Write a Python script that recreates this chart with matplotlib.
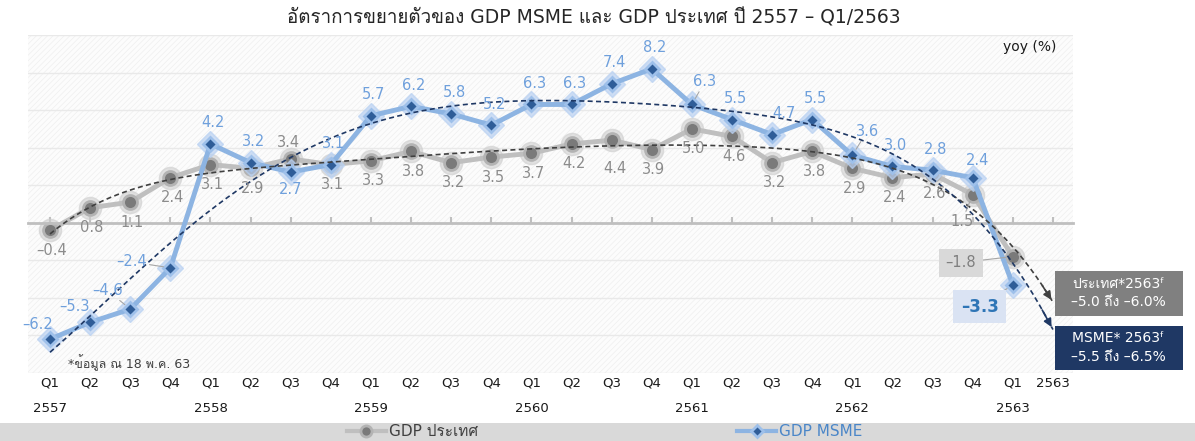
import matplotlib
matplotlib.use("Agg")
import matplotlib.pyplot as plt
import numpy as np
from matplotlib import font_manager, ft2font
from matplotlib.lines import Line2D
from matplotlib.patches import Rectangle


# pick up any installed family that has Thai glyphs, fall back to DejaVu for Latin
def thai_families():
    fams = []
    for f in font_manager.fontManager.ttflist:
        try:
            if 0x0E2D in ft2font.FT2Font(f.fname).get_charmap() and f.name not in fams:
                fams.append(f.name)
        except Exception:
            pass
    return fams

plt.rcParams['font.family'] = ['DejaVu Sans'] + thai_families()
plt.rcParams['hatch.linewidth'] = 0.5

# %%
# data (yoy %, Q1/2557 .. Q1/2563)
quarters = ["Q1", "Q2", "Q3", "Q4"] * 6 + ["Q1", "2563"]
years = ["2557", "", "", "", "2558", "", "", "", "2559", "", "", "", "2560", "", "", "",
         "2561", "", "", "", "2562", "", "", "", "2563", ""]

gdp_th = [-0.4, 0.8, 1.1, 2.4, 3.1, 2.9, 3.4, 3.1, 3.3, 3.8, 3.2, 3.5, 3.7,
          4.2, 4.4, 3.9, 5.0, 4.6, 3.2, 3.8, 2.9, 2.4, 2.6, 1.5, -1.8]
gdp_msme = [-6.2, -5.3, -4.6, -2.4, 4.2, 3.2, 2.7, 3.1, 5.7, 6.2, 5.8, 5.2, 6.3,
            6.3, 7.4, 8.2, 6.3, 5.5, 4.7, 5.5, 3.6, 3.0, 2.8, 2.4, -3.3]

forecast_th = ("ประเทศ*2563ᶠ", "–5.0 ถึง –6.0%")
forecast_msme = ("MSME* 2563ᶠ", "–5.5 ถึง –6.5%")

# %%
x = np.arange(len(gdp_th))

fig = plt.figure(figsize=(11.95, 4.41), dpi=100)
ax = fig.add_axes([0.0234, 0.1542, 0.8745, 0.7664])

ax.set_facecolor('#fcfcfc')
ax.patch.set_hatch('//////')
ax.patch.set_edgecolor('#efefef')

ax.set_xlim(-0.55, 25.5)
ax.set_ylim(-8, 10)
ax.set_yticks(np.arange(-8, 11, 2))
ax.tick_params(axis='y', length=0, labelleft=False)
ax.grid(axis='y', color='#e9e9e9', lw=1)
ax.set_axisbelow(True)
for s in ['left', 'right', 'top']:
    ax.spines[s].set_visible(False)
ax.spines['bottom'].set_position(('data', 0))
ax.spines['bottom'].set_color('#bfbfbf')
ax.spines['bottom'].set_linewidth(2)

ax.set_xticks(np.arange(len(quarters)))
ax.set_xticklabels([q + ("\n" + y if y else "") for q, y in zip(quarters, years)],
                   fontsize=9.5, color='#1a1a1a')
ax.tick_params(axis='x', direction='in', length=4, width=1.5, color='#bfbfbf', pad=111)
for lab in ax.get_xticklabels():
    lab.set_linespacing(2.2)

# lines with glowing markers
ax.plot(x, gdp_th, 'o', ms=16, color='#cfcfcf', alpha=0.6, zorder=2)
ax.plot(x, gdp_th, '-o', color='#bfbfbf', lw=3.5, ms=10, mfc='#7a7a7a', mec='#b3b3b3', mew=2, zorder=2)
ax.plot(x, gdp_msme, 'D', ms=13, color='#b9d1f2', alpha=0.7, zorder=3)
ax.plot(x, gdp_msme, '-D', color='#8db4e2', lw=3.5, ms=7.5, mfc='#2f5d98', mec='#9ec0ea', mew=2, zorder=3)

# polynomial trend lines, one period forward
xs = np.linspace(0, 25, 300)
for vals, col in [(gdp_th, '#404040'), (gdp_msme, '#1f3864')]:
    p = np.poly1d(np.polyfit(x, vals, 6))
    ax.plot(xs, p(xs), ls=(0, (3, 2)), color=col, lw=1.2, zorder=4)
    ax.annotate('', xy=(25, p(25)), xytext=(24.7, p(24.7)),
                arrowprops=dict(arrowstyle='-|>', color=col, lw=1.2, mutation_scale=12), zorder=4)

# data labels
lead = dict(arrowstyle='-', color='#a6a6a6', lw=0.8, shrinkA=0, shrinkB=5)
msme_off = {0: (-12, 15), 1: (-16, 16), 2: (-23, 19), 3: (-39, 6), 6: (0, -17),
            16: (13, 23), 18: (12, 21), 20: (15, 24), 23: (5, 17)}
gdp_off = {6: (-2, 16), 14: (3, -28), 23: (-11, -27)}
msme_lead = [2, 3, 16, 20]
gdp_lead = [23]

for i, v in enumerate(gdp_th[:-1]):
    ax.annotate(f"{v:.1f}".replace('-', '–'), (i, v), xytext=gdp_off.get(i, (2, -20)),
                textcoords='offset pixels', ha='center', va='center', fontsize=10.5,
                color='#8c8c8c', zorder=5, arrowprops=lead if i in gdp_lead else None)
for i, v in enumerate(gdp_msme[:-1]):
    ax.annotate(f"{v:.1f}".replace('-', '–'), (i, v), xytext=msme_off.get(i, (3, 21)),
                textcoords='offset pixels', ha='center', va='center', fontsize=10.5,
                color='#6fa0dc', zorder=5, arrowprops=lead if i in msme_lead else None)

ax.annotate(f"{gdp_th[-1]:.1f}".replace('-', '–'), (24, gdp_th[-1]), xytext=(-52, -6),
            textcoords='offset pixels', ha='center', va='center', fontsize=10.5, color='#7f7f7f',
            bbox=dict(boxstyle='square,pad=0.45', fc='#d9d9d9', ec='none'), arrowprops=lead, zorder=5)
ax.annotate(f"{gdp_msme[-1]:.1f}".replace('-', '–'), (24, gdp_msme[-1]), xytext=(-33, -22),
            textcoords='offset pixels', ha='center', va='center', fontsize=12, fontweight='bold',
            color='#2e75b6', bbox=dict(boxstyle='square,pad=0.45', fc='#dae3f3', ec='none'),
            arrowprops=lead, zorder=5)

ax.text(0.959, 0.964, "yoy (%)", transform=ax.transAxes, ha='center', va='center',
        fontsize=10, color='#1a1a1a')
ax.text(0.038, 0.03, "*ข้อมูล ณ 18 พ.ค. 63", transform=ax.transAxes, ha='left', va='center',
        fontsize=9, color='#404040')

# title
fig.text(0.497, 0.959, "อัตราการขยายตัวของ GDP MSME และ GDP ประเทศ ปี 2557 – Q1/2563",
         ha='center', va='center', fontsize=13.5, color='#262626')

# forecast boxes
fig.patches.append(Rectangle((0.8828, 0.2834), 0.1071, 0.102, transform=fig.transFigure,
                             fc='#808080', ec='none'))
fig.patches.append(Rectangle((0.8828, 0.161), 0.1071, 0.0998, transform=fig.transFigure,
                             fc='#1f3864', ec='none'))
fig.text(0.936, 0.356, forecast_th[0], ha='center', va='center', fontsize=10, color='white')
fig.text(0.936, 0.315, forecast_th[1], ha='center', va='center', fontsize=10, color='white')
fig.text(0.936, 0.234, forecast_msme[0], ha='center', va='center', fontsize=10, color='white')
fig.text(0.936, 0.191, forecast_msme[1], ha='center', va='center', fontsize=10, color='white')

# legend band
fig.patches.append(Rectangle((0, 0), 1, 0.041, transform=fig.transFigure, fc='#d9d9d9', ec='none'))
handles = [Line2D([], [], color='#bfbfbf', lw=3, marker='o', ms=8, mfc='#7a7a7a', mec='#b3b3b3', mew=2),
           Line2D([], [], color='#8db4e2', lw=3, marker='D', ms=6, mfc='#2f5d98', mec='#9ec0ea', mew=2)]
leg = fig.legend(handles, ["GDP ประเทศ", "GDP MSME"], loc='center', bbox_to_anchor=(0.506, 0.021),
                 ncol=2, frameon=False, fontsize=11, handlelength=2.5, handletextpad=0.2,
                 columnspacing=17, borderpad=0)
leg.get_texts()[0].set_color('#404040')
leg.get_texts()[1].set_color('#4a86c8')

fig.savefig('out.png', dpi=100)
